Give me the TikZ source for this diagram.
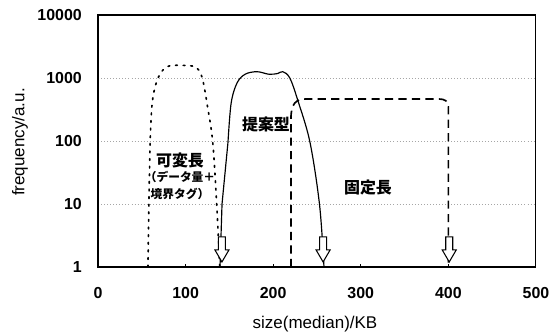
\documentclass[tikz,border=0pt]{standalone}
\usepackage{fontspec}
\setmainfont{Liberation Sans}
\newfontfamily\jpfont{Noto Sans CJK JP}
\usetikzlibrary{positioning}

\tikzset{
  gridline/.style={gray!70, dotted, line width=0.6pt},
  frameline/.style={black, line width=0.9pt},
  varline/.style={line width=1.4pt, dash pattern=on 1.5pt off 5pt, line cap=round},
  propline/.style={line width=1pt},
  fixline/.style={line width=1.4pt, dash pattern=on 7pt off 4.5pt},
  downarr/.pic={
    \begin{scope}[x=0.03cm, y=0.03cm]
      \draw[line width=0.9pt, fill=white] (-3.5,25) -- (3.5,25) -- (3.5,12) -- (7,12)
        -- (0,0) -- (-7,12) -- (-3.5,12) -- cycle;
    \end{scope}},
  ylab/.style={anchor=east, inner sep=0pt, xshift=-0.48cm, font=\fontsize{13.6}{14}\selectfont\bfseries},
  xlab/.style={anchor=north, inner sep=0pt, yshift=-0.6cm, font=\fontsize{13.6}{14}\selectfont\bfseries},
  jpbig/.style={inner sep=0pt, font=\jpfont\fontsize{13.6}{15}\selectfont\bfseries},
  jpsmall/.style={inner sep=0pt, align=center, font=\jpfont\fontsize{10}{15.3}\selectfont\bfseries}
}

\begin{document}
\begin{tikzpicture}[x=0.03cm, y=0.03cm]
  \useasboundingbox (0,0) rectangle (557,334);
  % axis titles
  \node[font=\fontsize{14.5}{15}\selectfont] (xtitle) at (315,10) {size(median)/KB};
  \node[font=\fontsize{14.5}{15}\selectfont, rotate=90] (ytitle) at (20,192) {frequency/a.u.};
  % plot area: x in KB, y in log10
  \begin{scope}[shift={(98,67)}, x=0.02628cm, y=1.89cm]
    \foreach \k in {1,2,3}
      \draw[gridline] (0,\k) -- (500,\k);
    \foreach \k/\t in {0/1,1/10,2/100,3/1000,4/10000}
      \node[ylab] (y\k) at (0,\k) {\t};
    \foreach \v in {0,100,...,500}
      \node[xlab] (x\v) at (\v,0) {\v};
    \foreach \v in {100,200,...,400}
      \draw[frameline] (\v,0) -- (\v,0.05);
    \draw[frameline] (0,0) rectangle (500,4);

    % curves
    \draw[varline] (57,0) -- (58.5,1.3) -- plot[smooth, tension=0.55] coordinates
      {(59.5,1.98) (62,2.62) (68.5,3.0) (79,3.18) (96,3.2) (112,3.17) (119,3.0) (125,2.55) (131,1.98) (135.5,1.0) (139,0)};
    \draw[propline] (139.3,0) -- (141.6,1) -- plot[smooth, tension=0.55] coordinates
      {(148.4,1.98) (152,2.6) (158.7,2.92) (168,3.06) (181.5,3.1) (195,3.06) (205,3.07) (211,3.1) (219,3.0) (228,2.65) (242,1.98) (253,0.98) (258,0)};
    \draw[fixline] (220.3,0) -- (220.3,2.35) .. controls (220.3,2.6) and (226,2.667) .. (238,2.667)
      -- (389,2.667) .. controls (396,2.667) and (400,2.63) .. (400,2.55) -- (400,0);

    % markers
    \foreach \p [count=\i] in {141.5,257,401}
      \pic (a\i) at (\p,0.08) {downarr};
  \end{scope}

  % labels
  \node[jpbig] (lblProp) at (266,210) {提案型};
  \node[jpbig] (lblVar) at (180,174) {可変長};
  \node[jpsmall, below=0.08cm of lblVar] (lblNote) {（データ量＋\\境界タグ）};
  \node[jpbig] (lblFix) at (368,146) {固定長};
\end{tikzpicture}
\end{document}
